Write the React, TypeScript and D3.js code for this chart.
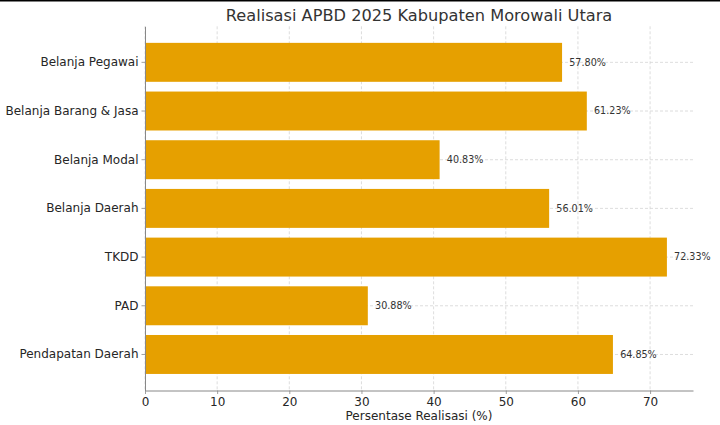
import React, { useEffect, useRef } from 'react';
import * as d3 from 'd3';

// Categories listed top to bottom as they appear in the chart
const categories = [
  'Belanja Pegawai',
  'Belanja Barang & Jasa',
  'Belanja Modal',
  'Belanja Daerah',
  'TKDD',
  'PAD',
  'Pendapatan Daerah',
];
const realisasi = [57.8, 61.23, 40.83, 56.01, 72.33, 30.88, 64.85];
const xTicks = [0, 10, 20, 30, 40, 50, 60, 70];

const title = 'Realisasi APBD 2025 Kabupaten Morowali Utara';
const xLabel = 'Persentase Realisasi (%)';

const FONT = '"DejaVu Sans", Verdana, sans-serif';

const App: React.FC = () => {
  const svgRef = useRef<SVGSVGElement>(null);

  useEffect(() => {
    if (!svgRef.current) return;
    d3.select(svgRef.current).selectAll('*').remove();

    const W = 720;
    const H = 425;
    const margin = { top: 26.3, right: 27, bottom: 34.5, left: 145 };
    const width = W - margin.left - margin.right;
    const height = H - margin.top - margin.bottom;

    const svg = d3.select(svgRef.current)
      .attr('width', W)
      .attr('height', H)
      .style('font-family', FONT);

    svg.append('rect').attr('width', W).attr('height', H).attr('fill', '#fff');
    // thin dark edge along the top of the screenshot
    svg.append('rect').attr('width', W).attr('height', 1.5).attr('fill', '#000');

    const g = svg.append('g')
      .attr('transform', `translate(${margin.left}, ${margin.top})`);

    const xMax = d3.max(realisasi)! * 1.05;
    const xScale = d3.scaleLinear().domain([0, xMax]).range([0, width]);

    const yScale = d3.scaleBand<string>()
      .domain(categories)
      .range([0, height])
      .paddingInner(0.2)
      .paddingOuter(0.34);

    // grid (behind bars)
    g.selectAll('.grid-x')
      .data(xTicks)
      .enter()
      .append('line')
      .attr('x1', d => xScale(d))
      .attr('x2', d => xScale(d))
      .attr('y1', 0)
      .attr('y2', height)
      .attr('stroke', '#d4d4d4')
      .attr('stroke-width', 0.8)
      .attr('stroke-dasharray', '3,2');

    g.selectAll('.grid-y')
      .data(categories)
      .enter()
      .append('line')
      .attr('x1', 0)
      .attr('x2', width)
      .attr('y1', d => yScale(d)! + yScale.bandwidth() / 2)
      .attr('y2', d => yScale(d)! + yScale.bandwidth() / 2)
      .attr('stroke', '#d4d4d4')
      .attr('stroke-width', 0.8)
      .attr('stroke-dasharray', '3,2');

    // bars
    g.selectAll('.bar')
      .data(categories)
      .enter()
      .append('rect')
      .attr('x', 0)
      .attr('y', d => yScale(d)!)
      .attr('width', (_, i) => xScale(realisasi[i]))
      .attr('height', yScale.bandwidth())
      .attr('fill', '#E6A000');

    // value labels
    g.selectAll('.value')
      .data(categories)
      .enter()
      .append('text')
      .attr('x', (_, i) => xScale(realisasi[i] + 1))
      .attr('y', d => yScale(d)! + yScale.bandwidth() / 2)
      .attr('dy', '0.35em')
      .style('font-size', '9.6px')
      .style('fill', '#333')
      .text((_, i) => `${realisasi[i].toFixed(2)}%`);

    // axes
    const xAxis = g.append('g')
      .attr('transform', `translate(0, ${height})`)
      .call(d3.axisBottom(xScale).tickValues(xTicks).tickSize(3.5).tickPadding(3).tickSizeOuter(0));

    const yAxis = g.append('g')
      .call(d3.axisLeft(yScale).tickSize(3.5).tickPadding(3).tickSizeOuter(0));

    [xAxis, yAxis].forEach(ax => {
      ax.select('.domain').attr('stroke', '#888').attr('stroke-width', 1);
      ax.selectAll('.tick line').attr('stroke', '#888').attr('stroke-width', 0.8);
      ax.selectAll('.tick text')
        .style('font-family', FONT)
        .style('font-size', '12px')
        .style('fill', '#262626');
    });

    // title
    svg.append('text')
      .attr('x', margin.left + width / 2)
      .attr('y', 21)
      .attr('text-anchor', 'middle')
      .style('font-size', '16.2px')
      .style('fill', '#333')
      .text(title);

    // x axis label
    svg.append('text')
      .attr('x', margin.left + width / 2)
      .attr('y', 420)
      .attr('text-anchor', 'middle')
      .style('font-size', '12px')
      .style('fill', '#262626')
      .text(xLabel);
  }, []);

  return (
    <div style={{ position: 'fixed', left: 0, top: 0, width: 720, height: 425, background: '#fff' }}>
      <svg ref={svgRef}></svg>
    </div>
  );
};

export default App;
